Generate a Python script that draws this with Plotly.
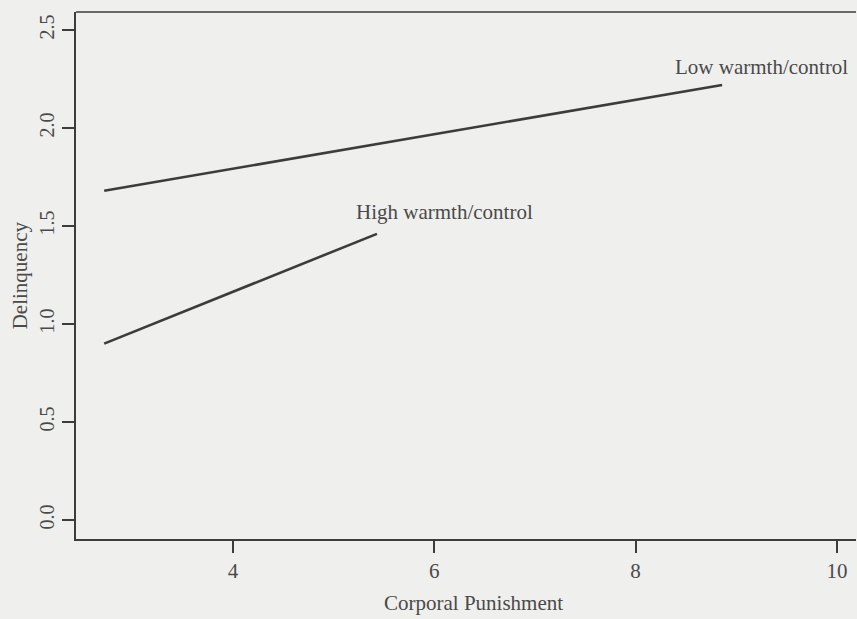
import plotly.graph_objects as go

# Data
low_x = [2.72, 8.86]
low_y = [1.68, 2.22]
high_x = [2.72, 5.43]
high_y = [0.90, 1.46]
x_ticks = [4, 6, 8, 10]
y_ticks = [0.0, 0.5, 1.0, 1.5, 2.0, 2.5]
y_tick_text = ["0.0", "0.5", "1.0", "1.5", "2.0", "2.5"]
labels = ["Low warmth/control", "High warmth/control"]
label_pos = [(9.25, 2.31), (6.10, 1.57)]
x_title = "Corporal Punishment"
y_title = "Delinquency"

FONT = "Liberation Serif"
INK = "#3c3c3c"
TXT = "#4a4a4a"
BG = "#efefed"

fig = go.Figure()
fig.add_trace(go.Scatter(x=low_x, y=low_y, mode="lines",
                         line=dict(color=INK, width=2.6), showlegend=False))
fig.add_trace(go.Scatter(x=high_x, y=high_y, mode="lines",
                         line=dict(color=INK, width=2.6), showlegend=False))

for txt, (ax, ay) in zip(labels, label_pos):
    fig.add_annotation(x=ax, y=ay, text=txt, showarrow=False,
                       font=dict(family=FONT, size=21, color=TXT))

# axis titles
fig.add_annotation(xref="paper", yref="paper", x=0.510, y=-0.122, yanchor="middle",
                   text=x_title, showarrow=False,
                   font=dict(family=FONT, size=21, color=TXT))
fig.add_annotation(xref="paper", yref="paper", x=-0.072, y=0.5, xanchor="center",
                   yanchor="middle", textangle=-90, text=y_title, showarrow=False,
                   font=dict(family=FONT, size=21, color=TXT))

# top border of the box (right side is cut off in the original)
fig.add_shape(type="line", xref="paper", yref="paper", x0=0, x1=1, y0=1, y1=1,
              line=dict(color=INK, width=1.5))

fig.update_layout(
    width=857, height=619,
    margin=dict(l=76, r=1, t=12, b=80),
    paper_bgcolor=BG, plot_bgcolor=BG,
    font=dict(family=FONT, size=20, color=TXT),
    xaxis=dict(range=[2.44, 10.19], tickvals=x_ticks, ticks="outside", ticklen=12,
               tickwidth=1.5, tickcolor=INK, showline=True, linecolor=INK, linewidth=1.5,
               showgrid=False, zeroline=False,
               tickfont=dict(family=FONT, size=21, color=TXT)),
    yaxis=dict(range=[-0.097, 2.592], tickvals=y_ticks, ticktext=y_tick_text,
               tickangle=-90, ticks="outside", ticklen=12,
               tickwidth=1.5, tickcolor=INK, showline=True, linecolor=INK, linewidth=1.5,
               showgrid=False, zeroline=False,
               tickfont=dict(family=FONT, size=20, color=TXT)),
)

fig.write_html("out.html", config={"displayModeBar": False},
               post_script="document.body.style.margin='0';document.body.style.background='%s';" % BG)
